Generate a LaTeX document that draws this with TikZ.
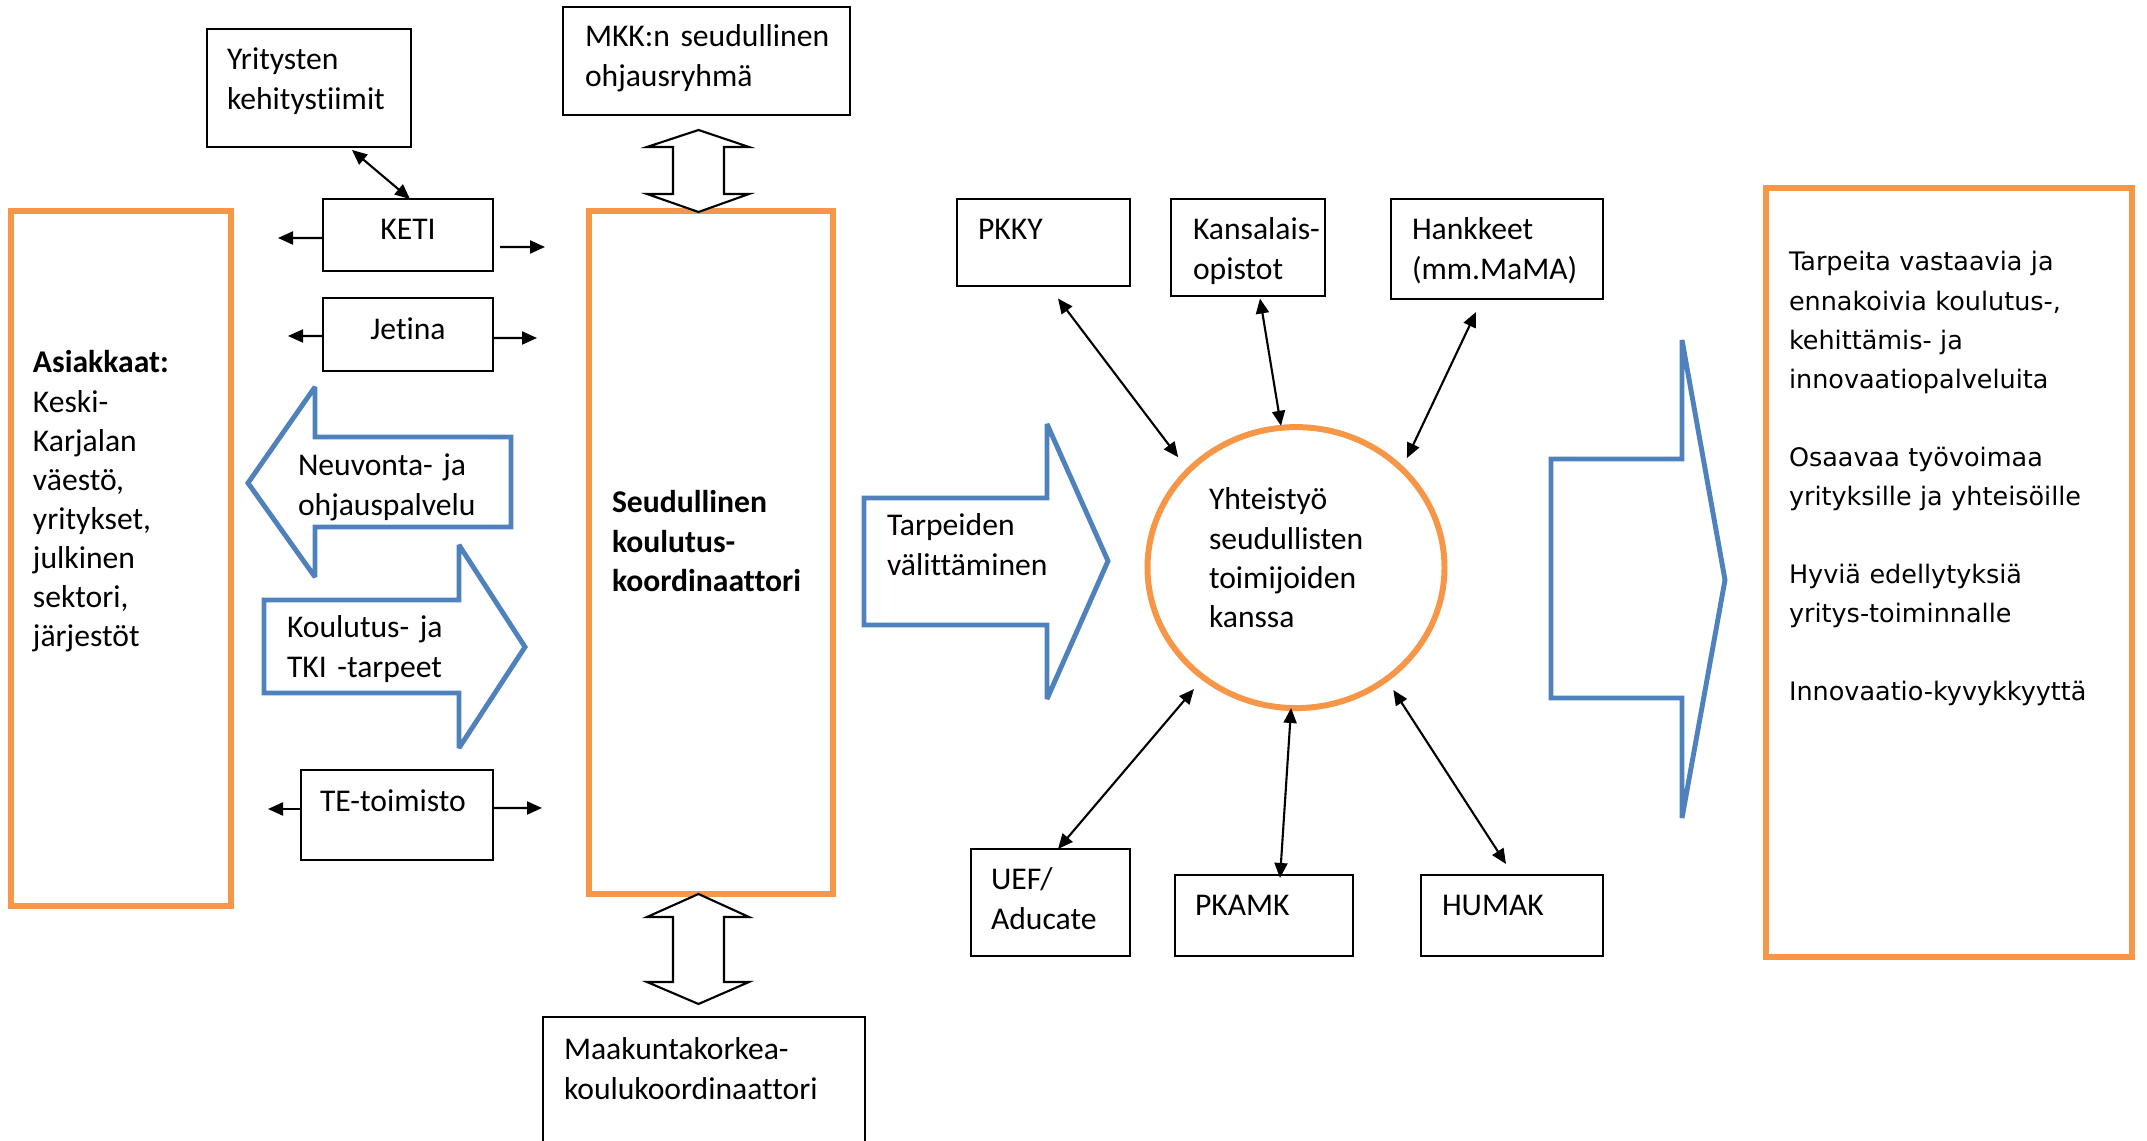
\documentclass[tikz,border=0pt]{standalone}
\usepackage{fontspec}
\setmainfont{Carlito}[Ligatures={NoCommon,NoContextual}]
\newfontfamily\rightfont{DejaVu Sans}
\usetikzlibrary{arrows.meta,shapes.geometric}
\definecolor{boxorange}{HTML}{F79646}
\definecolor{arrowblue}{HTML}{4F81BD}
\hyphenpenalty=10000
\exhyphenpenalty=10000
\begin{document}
\begin{tikzpicture}[>={Triangle[length=1.5mm,width=1.3mm]}, line width=0.6pt,
  every node/.style={font=\fontsize{9}{11.1}\selectfont, outer sep=0pt, inner ysep=0pt},
  box/.style={draw, line width=0.55pt, anchor=north west, align=left},
  org box/.style={draw=boxorange, line width=1.7pt, anchor=north west, align=left},
  blue arrow/.style={draw=arrowblue, line width=1.4pt, miter limit=3},
  hollow arrow/.style={draw, fill=white, line width=0.6pt},
  lbl/.style={anchor=base west, inner sep=0pt, align=left}]
\useasboundingbox (0,0) rectangle (21.47,-11.41);

\node [org box, inner xsep=0.22cm, text width=1.76cm, text height=1.62cm, text depth=5.33cm] (asiak) at (0.11,-2.11) {\textbf{Asiakkaat:}\\Keski-\\Karjalan\\väestö,\\yritykset,\\julkinen\\sektori,\\järjestöt};
\node [org box, inner xsep=0.23cm, text width=1.98cm, text height=3.02cm, text depth=3.81cm, font=\fontsize{9}{11.1}\selectfont\bfseries] (seud) at (5.89,-2.11) {Seudullinen\\koulutus-\\koordinaattori};
\node [org box, inner xsep=0.23cm, text width=3.20cm, text height=0.83cm, text depth=6.86cm, font=\rightfont\fontsize{7.25}{11.1}\selectfont] (tulos) at (17.66,-1.88) {Tarpeita vastaavia ja\\ennakoivia koulutus-,\\kehittämis- ja\\innovaatiopalveluita\\[11.1pt]Osaavaa työvoimaa\\yrityksille ja yhteisöille\\[11.1pt]Hyviä edellytyksiä\\yritys-toiminnalle\\[11.1pt]Innovaatio-kyvykkyyttä};

\node [box, inner xsep=0.20cm, text width=1.64cm, text height=0.41cm, text depth=0.77cm] (yrit) at (2.07,-0.29) {Yritysten\\kehitystiimit};
\node [box, inner xsep=0.22cm, text width=2.43cm, text height=0.40cm, text depth=0.68cm] (mkk) at (5.63,-0.07) {\mbox{MKK:n seudullinen}\\ohjausryhmä};
\node [box, inner xsep=0.10cm, text width=1.50cm, text height=0.41cm, text depth=0.31cm, align=center] (keti) at (3.23,-1.99) {KETI};
\node [box, inner xsep=0.10cm, text width=1.50cm, text height=0.42cm, text depth=0.31cm, align=center] (jetina) at (3.23,-2.98) {Jetina};
\node [box, inner xsep=0.19cm, text width=1.54cm, text height=0.42cm, text depth=0.48cm] (te) at (3.01,-7.70) {\mbox{TE-toimisto}};
\node [box, inner xsep=0.21cm, text width=2.80cm, text height=0.43cm, text depth=1.20cm] (maak) at (5.43,-10.17) {Maakuntakorkea-\\koulukoordinaattori};

\node [box, inner xsep=0.21cm, text width=1.31cm, text height=0.41cm, text depth=0.46cm] (pkky) at (9.57,-1.99) {PKKY};
\node [box, inner xsep=0.22cm, text width=1.10cm, text height=0.41cm, text depth=0.56cm] (kans) at (11.71,-1.99) {\mbox{Kansalais-}\\opistot};
\node [box, inner xsep=0.21cm, text width=1.70cm, text height=0.41cm, text depth=0.59cm] (hank) at (13.91,-1.99) {Hankkeet\\(mm.MaMA)};
\node [box, inner xsep=0.20cm, text width=1.19cm, text height=0.41cm, text depth=0.66cm] (uef) at (9.71,-8.49) {UEF/\\Aducate};
\node [box, inner xsep=0.20cm, text width=1.38cm, text height=0.41cm, text depth=0.40cm] (pkamk) at (11.75,-8.75) {PKAMK};
\node [box, inner xsep=0.21cm, text width=1.40cm, text height=0.41cm, text depth=0.40cm] (humak) at (14.21,-8.75) {HUMAK};

\node [ellipse, draw=boxorange, line width=1.7pt, minimum width=2.97cm, minimum height=2.81cm, inner sep=0pt, text width=1.74cm, text height=0.21cm, text depth=1.362cm, align=left] (coop) at (12.96,-5.676) {Yhteistyö\\seudullisten\\toimijoiden\\kanssa};

\draw [hollow arrow] (6.985,-1.30) -- (7.49,-1.47) -- (7.24,-1.47) -- (7.24,-1.94) -- (7.49,-1.94) -- (6.985,-2.12) -- (6.47,-1.94) -- (6.73,-1.94) -- (6.73,-1.47) -- (6.47,-1.47) -- cycle;
\draw [hollow arrow] (6.985,-8.94) -- (7.49,-9.17) -- (7.24,-9.17) -- (7.24,-9.82) -- (7.49,-9.82) -- (6.985,-10.04) -- (6.47,-9.82) -- (6.73,-9.82) -- (6.73,-9.17) -- (6.47,-9.17) -- cycle;

\draw [blue arrow] (2.48,-4.83) -- (3.15,-3.87) -- (3.15,-4.37) -- (5.11,-4.37) -- (5.11,-5.27) -- (3.15,-5.27) -- (3.15,-5.77) -- cycle;
\draw [blue arrow] (2.64,-6.00) -- (4.59,-6.00) -- (4.59,-5.45) -- (5.25,-6.47) -- (4.59,-7.48) -- (4.59,-6.93) -- (2.64,-6.93) -- cycle;
\draw [blue arrow] (8.64,-4.98) -- (10.47,-4.98) -- (10.47,-4.24) -- (11.08,-5.61) -- (10.47,-6.99) -- (10.47,-6.25) -- (8.64,-6.25) -- cycle;
\draw [blue arrow] (15.51,-4.59) -- (16.82,-4.59) -- (16.82,-3.40) -- (17.25,-5.80) -- (16.82,-8.18) -- (16.82,-6.98) -- (15.51,-6.98) -- cycle;

\node [lbl, text width=2.1cm] (neuv) at (2.98,-4.76) {Neuvonta- ja\\ohjauspalvelu};
\node [lbl, text width=2.1cm] (koul) at (2.87,-6.38) {Koulutus- ja\\TKI -tarpeet};
\node [lbl, text width=1.9cm] (tarp) at (8.87,-5.36) {Tarpeiden\\välittäminen};

\coordinate (ketiL) at (2.78,-2.38);
\coordinate (ketiR) at (5.45,-2.47);
\coordinate (jetinaL) at (2.88,-3.36);
\coordinate (jetinaR) at (5.37,-3.38);
\coordinate (teL) at (2.68,-8.09);
\coordinate (teR) at (5.42,-8.08);

\draw [->] ([yshift=-0.03cm]keti.west) -- (ketiL);
\draw [->] ([shift={(0.07,-0.12)}]keti.east) -- (ketiR);
\draw [->] ([yshift=-0.015cm]jetina.west) -- (jetinaL);
\draw [->] ([yshift=-0.035cm]jetina.east) -- (jetinaR);
\draw [->] ([yshift=0.06cm]te.west) -- (teL);
\draw [->] ([yshift=0.07cm]te.east) -- (teR);
\draw [<->] ([shift={(0.43,-0.03)}]yrit.south) -- ([xshift=0.02cm]keti.north);

\draw [<->, shorten >=0.17cm] ([shift={(0.145,-0.125)}]pkky.south) -- (coop.138.4);
\draw [<->, shorten >=0.02cm] ([shift={(0.12,-0.025)}]kans.south) -- (coop.96.8);
\draw [<->, shorten >=0.12cm] ([shift={(-0.21,-0.13)}]hank.south) -- (coop.43.3);
\draw [<->, shorten <=0.15cm] (coop.230) -- ([xshift=0.075cm]uef.north);
\draw [<->] (coop.268) -- ([shift={(0.16,-0.03)}]pkamk.north);
\draw [<->, shorten <=0.13cm] (coop.309) -- ([shift={(-0.06,0.11)}]humak.north);
\end{tikzpicture}
\end{document}
